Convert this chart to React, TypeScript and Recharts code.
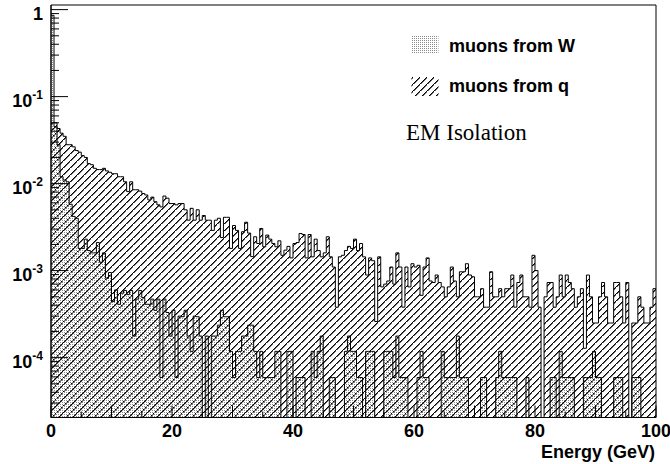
import React from 'react';
import { ComposedChart, Area, XAxis, YAxis, ReferenceArea } from 'recharts';

// 200 bins of 0.5 GeV, normalised entries
const binWidth = 0.5;

const muonsFromW = [
  0.86, 0.045, 0.028, 0.012, 0.011, 0.0105, 0.0058, 0.0042, 0.004, 0.0018,
  0.0018, 0.0023, 0.0017, 0.0016, 0.0016, 0.0021, 0.00125, 0.0016, 0.00082, 0.00095,
  0.00044, 0.0006, 0.00041, 0.00055, 0.00059, 0.00053, 0.00059, 0.000177, 0.00047, 0.00059,
  0.00049, 0.00041, 0.00041, 0.00047, 0.00035, 0.00047, 0.000059, 0.00047, 0.00033, 0.000177,
  0.00035, 0.000059, 0.0003, 0.000295, 0.00035, 0.000177, 0.000118, 0.0003, 0.000295, 0.000177,
  0, 0.000177, 0, 0.000177, 0.000177, 0.000236, 0.00035, 0.000295, 0.000295, 0.000118,
  0.000059, 0.000118, 0.000118, 0.000177, 0.000177, 0.000236, 0.000236, 0.000118, 0.000059, 0.000118,
  0.000059, 0.000059, 0.000059, 0.000059, 0.000118, 0.000118, 0, 0, 0.000118, 0.000118,
  0, 0.000059, 0.000059, 0.000059, 0, 0, 0.000118, 0.000059, 0.000118, 0.000177,
  0, 0, 0.000059, 0.000059, 0, 0, 0, 0.000118, 0.000177, 0.000118,
  0.000118, 0.000059, 0.000059, 0, 0.000118, 0.000118, 0.000118, 0, 0, 0,
  0.000118, 0.000118, 0.000118, 0.000059, 0.000177, 0.000059, 0.000059, 0.000059, 0, 0,
  0, 0.000059, 0.000118, 0.000059, 0.000059, 0, 0, 0, 0, 0.000118,
  0.000059, 0.000059, 0.000059, 0.000059, 0.000177, 0.000059, 0.000059, 0.000059, 0, 0,
  0, 0, 0.000059, 0.000059, 0, 0, 0, 0.000059, 0.000118, 0.000059,
  0.000059, 0.000059, 0.000059, 0.000059, 0, 0, 0, 0.000059, 0, 0,
  0, 0, 0, 0, 0, 0.000059, 0.000059, 0, 0.000118, 0.000059,
  0.000059, 0.000059, 0.000059, 0, 0, 0, 0.000059, 0.000059, 0.000059, 0.000118,
  0.000059, 0.000059, 0, 0, 0, 0, 0.000059, 0.000059, 0.000059, 0,
  0, 0, 0.000059, 0.000059, 0.000059, 0, 0, 0, 0, 0,
];

const muonsFromQ = [
  0.05, 0.05, 0.043, 0.038, 0.035, 0.028, 0.028, 0.0265, 0.024, 0.023,
  0.021, 0.02, 0.017, 0.0165, 0.015, 0.0145, 0.0145, 0.015, 0.014, 0.0135,
  0.013, 0.013, 0.012, 0.012, 0.0105, 0.0081, 0.0105, 0.0085, 0.0085, 0.0082,
  0.0077, 0.0074, 0.0065, 0.007, 0.0062, 0.0057, 0.0054, 0.0072, 0.0068, 0.0059,
  0.0059, 0.0057, 0.0059, 0.0059, 0.005, 0.0038, 0.0052, 0.0038, 0.005, 0.0038,
  0.0043, 0.0038, 0.0038, 0.0029, 0.0038, 0.004, 0.0024, 0.0041, 0.0041, 0.0018,
  0.0033, 0.0029, 0.0018, 0.0028, 0.0036, 0.0027, 0.00145, 0.00245, 0.00205, 0.00305,
  0.00188, 0.00256, 0.0023, 0.00205, 0.00188, 0.0022, 0.0015, 0.00172, 0.0019, 0.0014,
  0.00205, 0.0021, 0.00267, 0.0026, 0.0014, 0.0026, 0.00144, 0.0023, 0.0017, 0.00144,
  0.0016, 0.00245, 0.00144, 0.0011, 0.00038, 0.00144, 0.0015, 0.0017, 0.0019, 0.0018,
  0.0023, 0.0017, 0.00205, 0.00144, 0.00089, 0.0014, 0.0013, 0.00026, 0.00144, 0.00065,
  0.0007, 0.00076, 0.0011, 0.0007, 0.0016, 0.0011, 0.00038, 0.0011, 0.00065, 0.0012,
  0.0011, 0.00115, 0.00052, 0.0011, 0.0014, 0.00076, 0.00073, 0.00089, 0.00073, 0.00065,
  0.0005, 0.00065, 0.0011, 0.00076, 0.0005, 0.00097, 0.00097, 0.0012, 0.00089, 0.00085,
  0.0005, 0.0005, 0.00062, 0.00038, 0.00038, 0.00097, 0.0005, 0.0005, 0.00062, 0.0005,
  0.00062, 0.00062, 0.00089, 0.00038, 0.00073, 0.00089, 0.0005, 0.0005, 0.00038, 0.0015,
  0.001, 0.00038, 0, 0.0005, 0.00073, 0.00073, 0.00038, 0.0005, 0.00089, 0.0005,
  0.00089, 0.00073, 0.00062, 0.00038, 0.0005, 0.00062, 0.000128, 0.00089, 0.0005, 0.00025,
  0.00025, 0.0005, 0.00073, 0.0005, 0.00025, 0.00025, 0.00073, 0.00073, 0.0005, 0.00025,
  0.00073, 0, 0.00025, 0.00025, 0.0005, 0.00038, 0.00025, 0.00025, 0.00038, 0.00062,
];

const yDecades = [1e-4, 1e-3, 1e-2, 1e-1, 1];
const yDecadeExponents = ['-4', '-3', '-2', '-1', ''];
const yMinorTicks = [
  3e-5, 4e-5, 5e-5, 6e-5, 7e-5, 8e-5, 9e-5,
  2e-4, 3e-4, 4e-4, 5e-4, 6e-4, 7e-4, 8e-4, 9e-4,
  2e-3, 3e-3, 4e-3, 5e-3, 6e-3, 7e-3, 8e-3, 9e-3,
  2e-2, 3e-2, 4e-2, 5e-2, 6e-2, 7e-2, 8e-2, 9e-2,
  0.2, 0.3, 0.4, 0.5, 0.6, 0.7, 0.8, 0.9,
];
const xTicks = [0, 5, 10, 15, 20, 25, 30, 35, 40, 45, 50, 55, 60, 65, 70, 75, 80, 85, 90, 95, 100];
const xLabels = [0, 20, 40, 60, 80, 100];

const Y_MIN = 2.05e-5;
const Y_MAX = 1.13;

const PLOT_LEFT = 51;
const PLOT_BOTTOM = 417.5;
const FONT = '"Liberation Sans", Arial, sans-serif';

// histogram table for stepAfter areas (empty bins sit on the axis floor)
const data = muonsFromQ.map((q, i) => ({
  x: i * binWidth,
  q: Math.max(q, Y_MIN),
  w: Math.max(muonsFromW[i], Y_MIN),
}));
data.push({ ...data[data.length - 1], x: muonsFromQ.length * binWidth });

const HATCH = 7;
const hatchPixels = Array.from({ length: HATCH }, (_, k) => k);

// ROOT-like fill patterns (pixel hatch "///" and a fine grey stipple)
function Patterns({ prefix }: { prefix: string }) {
  return (
    <defs>
      <pattern id={`${prefix}Hatch`} width={HATCH} height={HATCH} patternUnits="userSpaceOnUse">
        {hatchPixels.map((k) => (
          <rect key={k} x={HATCH - 1 - k} y={k} width={1.6} height={1} fill="#000" />
        ))}
      </pattern>
      <pattern id={`${prefix}Dots`} width="2" height="2" patternUnits="userSpaceOnUse">
        <rect x="0" y="0" width="1" height="1" fill="#8a8a8a" />
      </pattern>
    </defs>
  );
}

function YTick(props: any) {
  const { y, payload } = props;
  const v = payload.value;
  const idx = yDecades.findIndex((d) => Math.abs(d - v) / d < 1e-6);
  if (idx < 0) {
    return <line x1={PLOT_LEFT} x2={PLOT_LEFT + 8} y1={y} y2={y} stroke="#000" />;
  }
  const exp = yDecadeExponents[idx];
  return (
    <g>
      <line x1={PLOT_LEFT} x2={PLOT_LEFT + 17} y1={y} y2={y} stroke="#000" />
      <text x={43} y={y + 10} textAnchor="end" fontFamily={FONT} fontWeight="bold" fontSize={18} fill="#000">
        {exp === '' ? '1' : '10'}
        {exp !== '' && (
          <tspan fontSize={12} dy={-7.5}>
            {exp}
          </tspan>
        )}
      </text>
    </g>
  );
}

function XTick(props: any) {
  const { x, payload } = props;
  const v = payload.value;
  const labelled = xLabels.includes(v);
  const len = v % 10 === 0 ? 12 : 6;
  return (
    <g>
      <line x1={x} x2={x} y1={PLOT_BOTTOM} y2={PLOT_BOTTOM - len} stroke="#000" />
      {labelled && (
        <text x={x} y={437} textAnchor="middle" fontFamily={FONT} fontWeight="bold" fontSize={18} fill="#000">
          {v}
        </text>
      )}
    </g>
  );
}

export default function App() {
  return (
    <div style={{ position: 'absolute', left: 0, top: 0, width: 670, height: 464, background: '#fff' }}>
      <ComposedChart
        width={670}
        height={464}
        data={data}
        margin={{ top: 5, right: 14, bottom: 0, left: 0 }}
      >
        <Patterns prefix="plot" />
        <XAxis
          type="number"
          dataKey="x"
          domain={[0, 100]}
          ticks={xTicks}
          interval={0}
          height={46.5}
          tickLine={false}
          axisLine={{ stroke: '#000' }}
          tick={<XTick />}
        />
        <YAxis
          type="number"
          scale="log"
          domain={[Y_MIN, Y_MAX]}
          allowDataOverflow
          ticks={[...yMinorTicks, ...yDecades]}
          interval={0}
          width={51}
          tickLine={false}
          axisLine={{ stroke: '#000' }}
          tick={<YTick />}
        />
        <Area
          type="stepAfter"
          dataKey="q"
          stroke="#000"
          strokeWidth={1}
          fill="url(#plotHatch)"
          fillOpacity={1}
          baseValue={Y_MIN}
          dot={false}
          activeDot={false}
          isAnimationActive={false}
        />
        <Area
          type="stepAfter"
          dataKey="w"
          stroke="#000"
          strokeWidth={1}
          fill="url(#plotDots)"
          fillOpacity={1}
          baseValue={Y_MIN}
          dot={false}
          activeDot={false}
          isAnimationActive={false}
        />
        <ReferenceArea x1={0} x2={100} y1={Y_MIN} y2={Y_MAX} fill="none" stroke="#000" strokeWidth={1} />
      </ComposedChart>
      <svg width={670} height={464} style={{ position: 'absolute', left: 0, top: 0, pointerEvents: 'none' }}>
        <Patterns prefix="leg" />
        <rect x={411.5} y={35.5} width={27} height={18} fill="url(#legDots)" />
        <text x={449} y={52} fontFamily={FONT} fontWeight="bold" fontSize={18} fill="#000">
          muons from W
        </text>
        <rect x={411.5} y={77} width={27} height={19} fill="url(#legHatch)" />
        <text x={449} y={92} fontFamily={FONT} fontWeight="bold" fontSize={18} fill="#000">
          muons from q
        </text>
        <text x={406} y={140} fontFamily='"Liberation Serif", "Times New Roman", serif' fontSize={23} fill="#000">
          EM Isolation
        </text>
        <text x={655} y={458} textAnchor="end" fontFamily={FONT} fontWeight="bold" fontSize={18} fill="#000">
          Energy (GeV)
        </text>
      </svg>
    </div>
  );
}
